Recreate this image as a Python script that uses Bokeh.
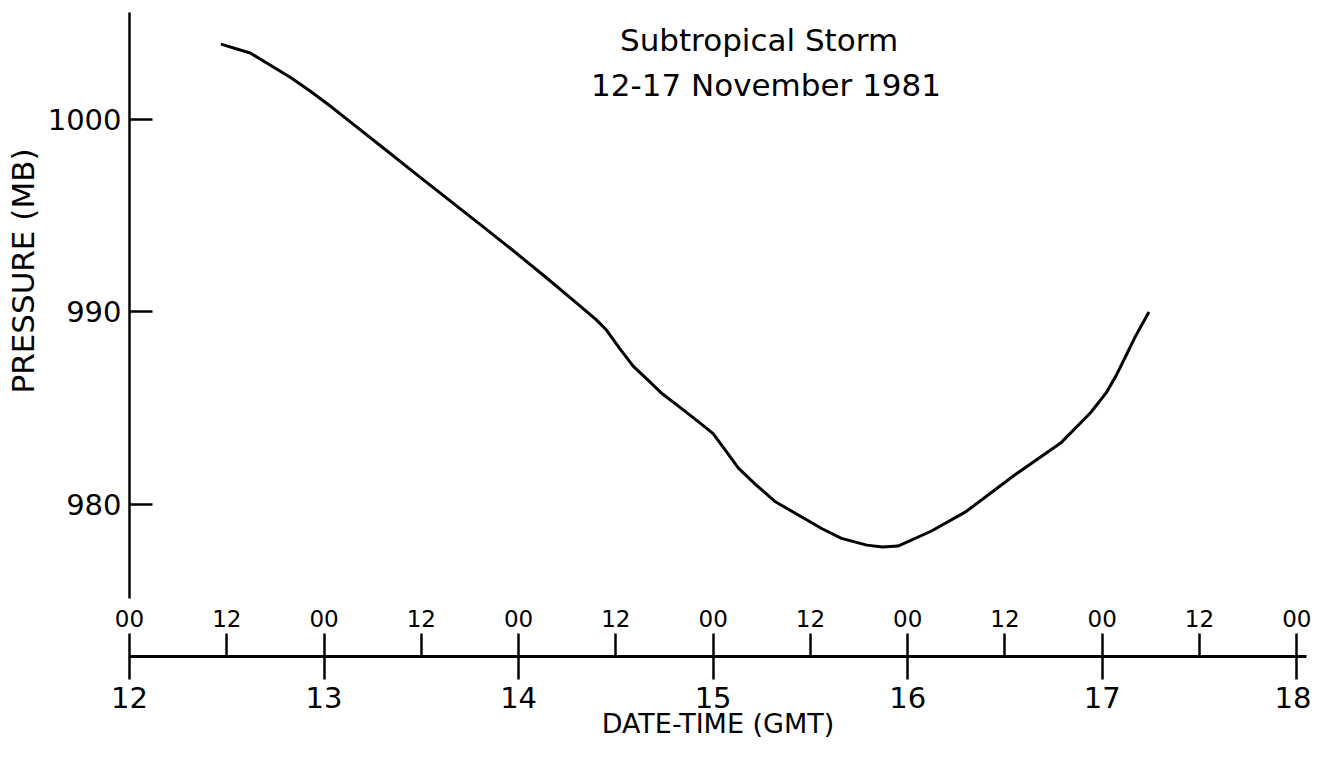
from bokeh.plotting import figure
from bokeh.models import FixedTicker, Range1d, LinearAxis
from bokeh.core.properties import value
from bokeh.embed import file_html
from bokeh.resources import INLINE

# ---- data ----
time_days = [12.47, 12.62, 12.83, 12.93, 13.03, 13.13, 13.30, 13.48, 13.65, 13.82,
             13.97, 14.14, 14.30, 14.40, 14.45, 14.52, 14.59, 14.66, 14.74, 14.84,
             14.93, 15.00, 15.07, 15.13, 15.22, 15.32, 15.44, 15.56, 15.66, 15.79,
             15.87, 15.95, 16.12, 16.30, 16.55, 16.79, 16.94, 17.02, 17.07, 17.12,
             17.17, 17.24]
pressure_mb = [1003.90, 1003.44, 1002.15, 1001.45, 1000.70, 999.90, 998.55, 997.10, 995.75, 994.40,
               993.20, 991.80, 990.45, 989.59, 989.08, 988.10, 987.18, 986.51, 985.74, 984.97,
               984.26, 983.69, 982.72, 981.90, 981.03, 980.15, 979.45, 978.75, 978.25, 977.90,
               977.80, 977.85, 978.62, 979.64, 981.54, 983.23, 984.77, 985.80, 986.67, 987.69,
               988.72, 990.00]

date_ticks = [12, 13, 14, 15, 16, 17, 18]
date_labels = ["12", "13", "14", "15", "16", "17", "18"]
hour_ticks = [12.0, 12.5, 13.0, 13.5, 14.0, 14.5, 15.0, 15.5, 16.0, 16.5, 17.0, 17.5, 18.0]
hour_labels = ["00", "12", "00", "12", "00", "12", "00", "12", "00", "12", "00", "12", "00"]
half_day_ticks = [12.5, 13.5, 14.5, 15.5, 16.5, 17.5]
pressure_ticks = [980, 990, 1000]
title_lines = ["Subtropical Storm", "12-17 November 1981"]
title_x = [15.236, 15.272]
title_y = [1004.1, 1001.8]
x_label = "DATE-TIME (GMT)"
y_label = "PRESSURE (MB)"

FONT = "DejaVu Sans"
NBSP = "\u00a0"

X0, X1 = 12.0, 18.05
Y0, Y1 = 975.13, 1005.54

p = figure(width=1311, height=741, output_backend="svg", toolbar_location=None,
           x_range=Range1d(X0, X1), y_range=Range1d(Y0, Y1), x_axis_location=None,
           min_border_left=129, min_border_right=5, min_border_top=12, min_border_bottom=136)
p.outline_line_color = None
p.grid.visible = False
p.background_fill_color = "white"
p.border_fill_color = "white"

# curve
p.line(time_days, pressure_mb, line_color="black", line_width=3, line_join="round")

# title
p.text(x=title_x, y=title_y, text=title_lines,
       text_font=value(FONT), text_font_size="31px", text_align="center",
       text_baseline="middle", text_color="black")

# hour labels (00 / 12) row, closest to the plot
ha = LinearAxis(ticker=FixedTicker(ticks=hour_ticks, minor_ticks=[]))
ha.major_label_overrides = {t: l for t, l in zip(hour_ticks, hour_labels)}
ha.axis_line_color = None
ha.major_tick_line_color = None
ha.minor_tick_line_color = None
ha.major_tick_in = 0
ha.major_tick_out = 0
ha.major_label_standoff = 11
ha.major_label_text_font = FONT
ha.major_label_text_font_size = "23px"
ha.major_label_text_color = "black"
ha.axis_label = NBSP
ha.axis_label_standoff = 7
ha.axis_label_text_font_size = "16px"
p.add_layout(ha, "below")

# date axis with the line
xa = LinearAxis(ticker=FixedTicker(ticks=date_ticks, minor_ticks=half_day_ticks))
xa.major_label_overrides = {t: l for t, l in zip(date_ticks, date_labels)}
xa.bounds = (12.0, 18.05)
xa.axis_line_width = 3
xa.axis_line_color = "black"
xa.major_tick_in = 23
xa.major_tick_out = 23
xa.major_tick_line_width = 2.5
xa.minor_tick_in = 23
xa.minor_tick_out = 0
xa.minor_tick_line_width = 2.5
xa.major_label_standoff = 7
xa.major_label_text_font = FONT
xa.major_label_text_font_size = "29px"
xa.major_label_text_color = "black"
xa.axis_label = x_label
xa.axis_label_standoff = -3
xa.axis_label_text_font = FONT
xa.axis_label_text_font_size = "27px"
xa.axis_label_text_font_style = "normal"
xa.axis_label_text_color = "black"
p.add_layout(xa, "below")

# y axis
ya = p.yaxis[0]
ya.ticker = FixedTicker(ticks=pressure_ticks, minor_ticks=[])
ya.axis_line_width = 2.5
ya.axis_line_color = "black"
ya.major_tick_in = 23
ya.major_tick_out = 0
ya.major_tick_line_width = 2.5
ya.minor_tick_line_color = None
ya.major_label_standoff = 8
ya.major_label_text_font = FONT
ya.major_label_text_font_size = "29px"
ya.major_label_text_color = "black"
ya.axis_label = NBSP * 7 + y_label
ya.axis_label_standoff = 4
ya.axis_label_text_font = FONT
ya.axis_label_text_font_size = "31px"
ya.axis_label_text_font_style = "normal"
ya.axis_label_text_color = "black"

open("out.html", "w").write(file_html(p, INLINE))
